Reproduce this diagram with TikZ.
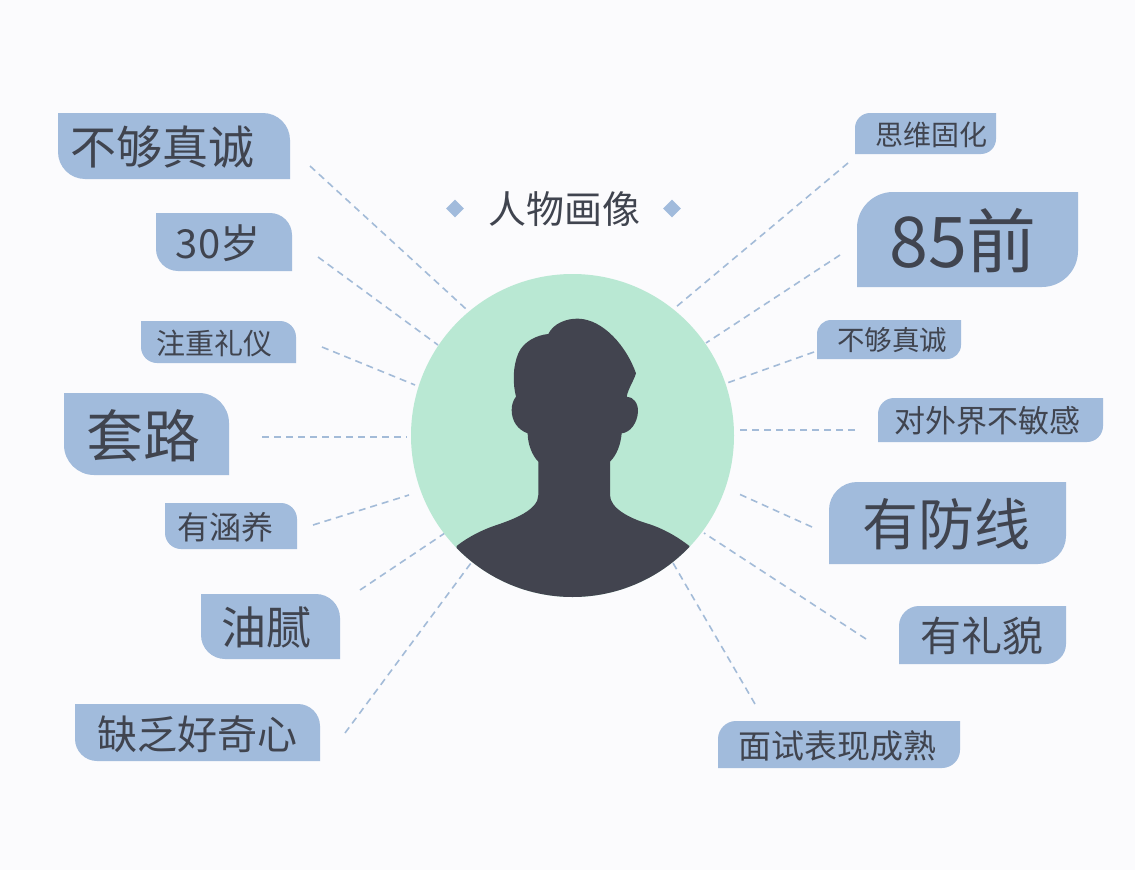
\documentclass[tikz,border=0pt]{standalone}
\usepackage{fontspec}
\setmainfont{Noto Sans CJK SC}
\usetikzlibrary{shapes.geometric}
\definecolor{bgc}{HTML}{FBFBFD}
\definecolor{tagc}{HTML}{A1BBDC}
\definecolor{inkc}{HTML}{40444F}
\definecolor{facec}{HTML}{B9E8D3}
\definecolor{linec}{HTML}{A3BBD8}
\definecolor{darkc}{HTML}{42444F}
\tikzset{
  link/.style={draw=linec,line width=1.6pt,dash pattern=on 7pt off 5pt},
  tagfill/.style={fill=tagc},
  label/.style={text=inkc,inner sep=0pt,anchor=center},
  gem/.style={diamond,fill=tagc,minimum width=18pt,minimum height=18pt,inner sep=0pt},
}
% #1 name, #2-#5 x0 y0 x1 y1, #6 radius, #7 size, #8 cx, #9 text
\newcommand{\tagL}[9]{%
  \fill[tagfill] (#2,#3) -- ({#4-#6},#3) .. controls ({#4-0.45*#6},#3) and (#4,{#3+0.45*#6}) .. (#4,{#3+#6})
    -- (#4,#5) -- ({#2+#6},#5) .. controls ({#2+0.45*#6},#5) and (#2,{#5-0.45*#6}) .. (#2,{#5-#6}) -- cycle;
  \node[label,font=\fontsize{#7pt}{#7pt}\selectfont] (#1) at (#8,{(#3+#5)/2+1.5}) {#9};}
\newcommand{\tagR}[9]{%
  \fill[tagfill] ({#2+#6},#3) -- (#4,#3) -- (#4,{#5-#6}) .. controls (#4,{#5-0.45*#6}) and ({#4-0.45*#6},#5) .. ({#4-#6},#5)
    -- (#2,#5) -- (#2,{#3+#6}) .. controls (#2,{#3+0.45*#6}) and ({#2+0.45*#6},#3) .. ({#2+#6},#3) -- cycle;
  \node[label,font=\fontsize{#7pt}{#7pt}\selectfont] (#1) at (#8,{(#3+#5)/2+1}) {#9};}
\newcommand{\spoke}[5]{%
  \coordinate (#1a) at (#2,#3); \coordinate (#1b) at (#4,#5);
  \draw[link] (#1a) -- (#1b);}
\begin{document}
\begin{tikzpicture}[x=1pt,y=-1pt]
\useasboundingbox[fill=bgc] (0,0) rectangle (1135,870);
% spokes
\spoke{la}{310}{166}{466}{309}
\spoke{lb}{318}{257}{438}{345}
\spoke{lc}{322}{347}{415}{385}
\spoke{ld}{262}{437}{407}{437}
\spoke{le}{313}{525}{409}{495}
\spoke{lf}{360}{590}{445}{533}
\spoke{lg}{345}{733}{471}{563}
\spoke{ra}{848}{163}{676}{307}
\spoke{rb}{840}{255}{706}{343}
\spoke{rc}{814}{352}{727}{383}
\spoke{rd}{855}{430}{738}{430}
\spoke{re}{812}{527}{739}{494}
\spoke{rf}{866}{639}{704}{533}
\spoke{rg}{755}{704}{673}{563}
% portrait
\node[circle,fill=facec,minimum size=323pt,inner sep=0pt] (face) at (572.5,435.5) {};
\begin{scope}
\clip (572.5,435.5) circle (161.5pt);
\begin{scope}[shift={(400,260)},x=0.33333pt,y=-0.33333pt]
\fill[darkc] (170,858)
  .. controls (205,830) and (250,808) .. (290,795)
  .. controls (340,778) and (415,750) .. (415,705)
  -- (415,605)
  .. controls (395,585) and (383,550) .. (383,520)
  .. controls (355,510) and (335,485) .. (335,450)
  .. controls (335,430) and (342,418) .. (348,410)
  .. controls (338,370) and (338,320) .. (355,280)
  .. controls (370,245) and (410,225) .. (445,222)
  .. controls (460,190) and (500,175) .. (535,176)
  .. controls (610,178) and (680,260) .. (708,340)
  .. controls (700,365) and (685,385) .. (680,410)
  .. controls (700,410) and (715,430) .. (714,455)
  .. controls (712,490) and (690,518) .. (665,520)
  .. controls (662,555) and (650,585) .. (630,605)
  -- (630,705)
  .. controls (630,745) and (690,775) .. (740,790)
  .. controls (790,805) and (835,832) .. (868,858)
  -- (868,1100) -- (170,1100) -- cycle;
\end{scope}
\end{scope}
% title
\node[gem] (gl) at (455,208.5) {};
\node[gem] (gr) at (672,208.5) {};
\node[label,font=\fontsize{38pt}{38pt}\selectfont] (title) at (564,209) {人物画像};
% left tags
\tagL{ta}{58}{113}{290}{179}{27}{46}{162.5}{不够真诚}
\tagL{tb}{156}{213}{292}{271}{22}{40}{218}{30岁}
\tagL{tc}{141}{321}{296}{363}{16}{29}{214}{注重礼仪}
\tagL{td}{64}{393}{229}{475}{30}{57}{143.5}{套路}
\tagL{te}{165}{503}{297}{549}{16}{32}{225.5}{有涵养}
\tagL{tf}{201}{594}{340}{659}{24}{45}{266.5}{油腻}
\tagL{tg}{75}{704}{320}{761}{22}{40}{197}{缺乏好奇心}
% right tags
\tagR{ua}{855}{113}{996}{154}{15}{28}{931.5}{思维固化}
\tagR{ub}{857}{192}{1078}{287}{36}{70}{963}{85前}
\tagR{uc}{817}{320}{961}{359}{14}{27.5}{892}{不够真诚}
\tagR{ud}{878}{398}{1103}{442}{16}{31}{987.5}{对外界不敏感}
\tagR{ue}{829}{482}{1066}{564}{28}{56}{946}{有防线}
\tagR{uf}{899}{606}{1066}{664}{20}{41}{982}{有礼貌}
\tagR{ug}{718}{721}{960}{768}{18}{33}{837}{面试表现成熟}
\end{tikzpicture}
\end{document}
